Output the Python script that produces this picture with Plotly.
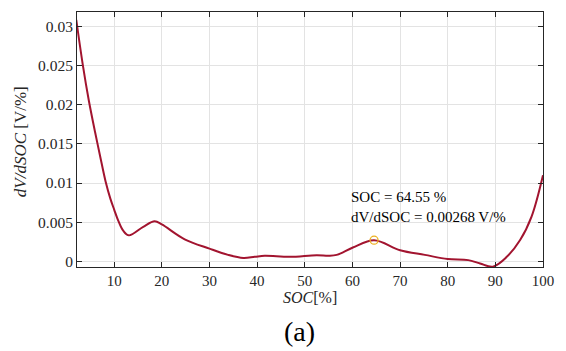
import plotly.graph_objects as go

soc = [2.05, 3.4, 4.7, 6.0, 7.0, 8.2, 9.2, 10, 10.85, 11.9, 13.1, 16.1, 18.5, 20, 24.8, 30, 33.9,
       37.1, 39.5, 41.6, 46.9, 52.5, 55, 56.7, 60.1, 64.55, 70, 75.2, 80, 84.3, 86.8, 89.5, 92.4,
       95.2, 97.6, 100]
dvdsoc = [0.0309, 0.0252, 0.0205, 0.0165, 0.0136, 0.0102, 0.0080, 0.0066, 0.0052, 0.0039, 0.0033,
          0.0044, 0.0051, 0.0047, 0.0028, 0.0016, 0.0008, 0.0004, 0.00055, 0.00068, 0.00055,
          0.00077, 0.0007, 0.0008, 0.00175, 0.00268, 0.0014, 0.0008, 0.00026, 0.00013, -0.0003,
          -0.0007, 0.00055, 0.0027, 0.0057, 0.011]
marker_soc = [64.55]
marker_val = [0.00268]
x_ticks = [10, 20, 30, 40, 50, 60, 70, 80, 90, 100]
y_ticks = [0, 0.005, 0.01, 0.015, 0.02, 0.025, 0.03]
y_ticklabels = ["0", "0.005", "0.01", "0.015", "0.02", "0.025", "0.03"]

CM = "'Liberation Serif', 'Times New Roman', Tinos, 'DejaVu Serif', serif"
axis_col = "#262626"

fig = go.Figure()
fig.add_trace(go.Scatter(x=soc, y=dvdsoc, mode="lines",
                         line=dict(color="#A2142F", width=2, shape="spline", smoothing=1.0),
                         showlegend=False))
fig.add_trace(go.Scatter(x=marker_soc, y=marker_val, mode="markers",
                         marker=dict(symbol="circle-open", size=8, color="#EDB120",
                                     line=dict(width=1.3, color="#EDB120")),
                         showlegend=False))

fig.update_layout(
    width=566, height=351,
    margin=dict(l=77, r=23, t=12, b=84),
    paper_bgcolor="white", plot_bgcolor="white",
    font=dict(family=CM, size=15, color=axis_col),
    xaxis=dict(range=[2.2, 100], tickvals=x_ticks, showgrid=True, gridcolor="#e3e3e3",
               gridwidth=1, zeroline=False, showline=True, linecolor=axis_col, linewidth=1,
               mirror="ticks", ticks="inside", ticklen=5, tickcolor=axis_col,
               tickfont=dict(family=CM, size=15, color=axis_col)),
    yaxis=dict(range=[-0.00075, 0.0319], tickvals=y_ticks, ticktext=y_ticklabels,
               showgrid=True, gridcolor="#e3e3e3", gridwidth=1, zeroline=False,
               showline=True, linecolor=axis_col, linewidth=1, mirror="ticks",
               ticks="inside", ticklen=5, tickcolor=axis_col,
               tickfont=dict(family=CM, size=15.5, color=axis_col)),
    annotations=[
        dict(text="SOC = 64.55 %<br>dV/dSOC = 0.00268 V/%", x=59.3, y=0.0069,
             xref="x", yref="y", xanchor="left", yanchor="middle", align="left",
             showarrow=False, font=dict(family=CM, size=15, color="#000000")),
        dict(text="<i>dV/dSOC</i> [V/%]", x=-0.122, y=0.49, xref="paper", yref="paper",
             textangle=-90, showarrow=False, xanchor="center", yanchor="middle",
             font=dict(family=CM, size=17, color=axis_col)),
        dict(text="<i>SOC</i>[%]", x=0.5, y=-0.118, xref="paper", yref="paper",
             showarrow=False, xanchor="center", yanchor="middle",
             font=dict(family=CM, size=16, color=axis_col)),
        dict(text="(a)", x=0.478, y=-0.252, xref="paper", yref="paper",
             showarrow=False, xanchor="center", yanchor="middle",
             font=dict(family=CM, size=28, color="#000000")),
    ],
)

fig.write_html("out.html")
